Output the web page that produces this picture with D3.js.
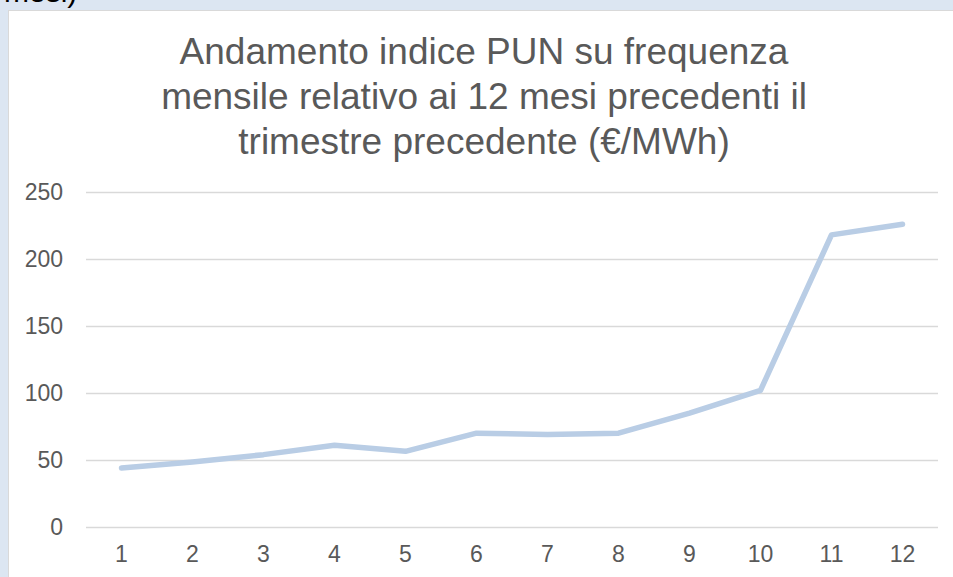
<!DOCTYPE html>
<html lang="it">
<head>
<meta charset="UTF-8">
<title>Andamento indice PUN</title>
<script src="https://d3js.org/d3.v7.min.js"></script>
<style>
  body { margin: 0; background: #dce6f2; overflow: hidden; }
  svg { display: block; }
</style>
</head>
<body>
<div id="chart"></div>
<script>
// dati
const mesi = [1, 2, 3, 4, 5, 6, 7, 8, 9, 10, 11, 12];
const pun = [44, 48.5, 54, 61, 56.5, 70, 69, 70, 85, 102, 218, 226];
const yTicks = [0, 50, 100, 150, 200, 250];
const titolo = ["Andamento indice PUN su frequenza",
                "mensile relativo ai 12 mesi precedenti il",
                "trimestre precedente (€/MWh)"];

const W = 953, H = 577;
const margin = { top: 192, right: 15, bottom: 50, left: 86 };
const width = W - margin.left - margin.right;
const height = H - margin.top - margin.bottom;

const svg = d3.select("#chart").append("svg")
    .attr("width", W)
    .attr("height", H);

// testo tagliato in alto
svg.append("text")
    .attr("x", -11)
    .attr("y", 1.5)
    .attr("font-family", "Liberation Sans, Arial, sans-serif")
    .attr("font-size", 30)
    .attr("fill", "#000")
    .text("i mesi)");

// area grafico
svg.append("rect")
    .attr("x", 8.5)
    .attr("y", 10.5)
    .attr("width", W)
    .attr("height", H)
    .attr("fill", "#fff")
    .attr("stroke", "#d9d9d9");

// titolo
svg.append("text")
    .attr("x", 484)
    .attr("text-anchor", "middle")
    .attr("font-family", "Liberation Sans, Arial, sans-serif")
    .attr("font-size", 37)
    .attr("fill", "#595959")
    .selectAll("tspan")
    .data(titolo)
    .join("tspan")
    .attr("x", 484)
    .attr("y", (d, i) => 64 + i * 45)
    .text(d => d);

const g = svg.append("g")
    .attr("transform", `translate(${margin.left},${margin.top})`);

const x = d3.scaleBand()
    .domain(mesi)
    .range([0, width]);

const y = d3.scaleLinear()
    .domain([0, 250])
    .range([height, 0]);

// griglia
g.append("g")
    .selectAll("line")
    .data(yTicks)
    .join("line")
    .attr("x1", 0)
    .attr("x2", width)
    .attr("y1", d => Math.round(y(d)) + 0.5)
    .attr("y2", d => Math.round(y(d)) + 0.5)
    .attr("stroke", "#d9d9d9")
    .attr("stroke-width", 1.5);

// asse Y
const yAxis = g.append("g")
    .call(d3.axisLeft(y).tickValues(yTicks).tickSize(0).tickPadding(23));
yAxis.select(".domain").remove();
yAxis.selectAll("text")
    .attr("font-family", "Liberation Sans, Arial, sans-serif")
    .attr("font-size", 23)
    .attr("fill", "#595959");

// asse X
const xAxis = g.append("g")
    .attr("transform", `translate(0,${height})`)
    .call(d3.axisBottom(x).tickSize(0).tickPadding(19));
xAxis.select(".domain").remove();
xAxis.selectAll("text")
    .attr("font-family", "Liberation Sans, Arial, sans-serif")
    .attr("font-size", 23)
    .attr("fill", "#595959");

// linea
const line = d3.line()
    .x((d, i) => x(mesi[i]) + x.bandwidth() / 2)
    .y(d => y(d));

g.append("path")
    .datum(pun)
    .attr("fill", "none")
    .attr("stroke", "#b9cde5")
    .attr("stroke-width", 5.5)
    .attr("stroke-linejoin", "round")
    .attr("stroke-linecap", "round")
    .attr("d", line);
</script>
</body>
</html>
